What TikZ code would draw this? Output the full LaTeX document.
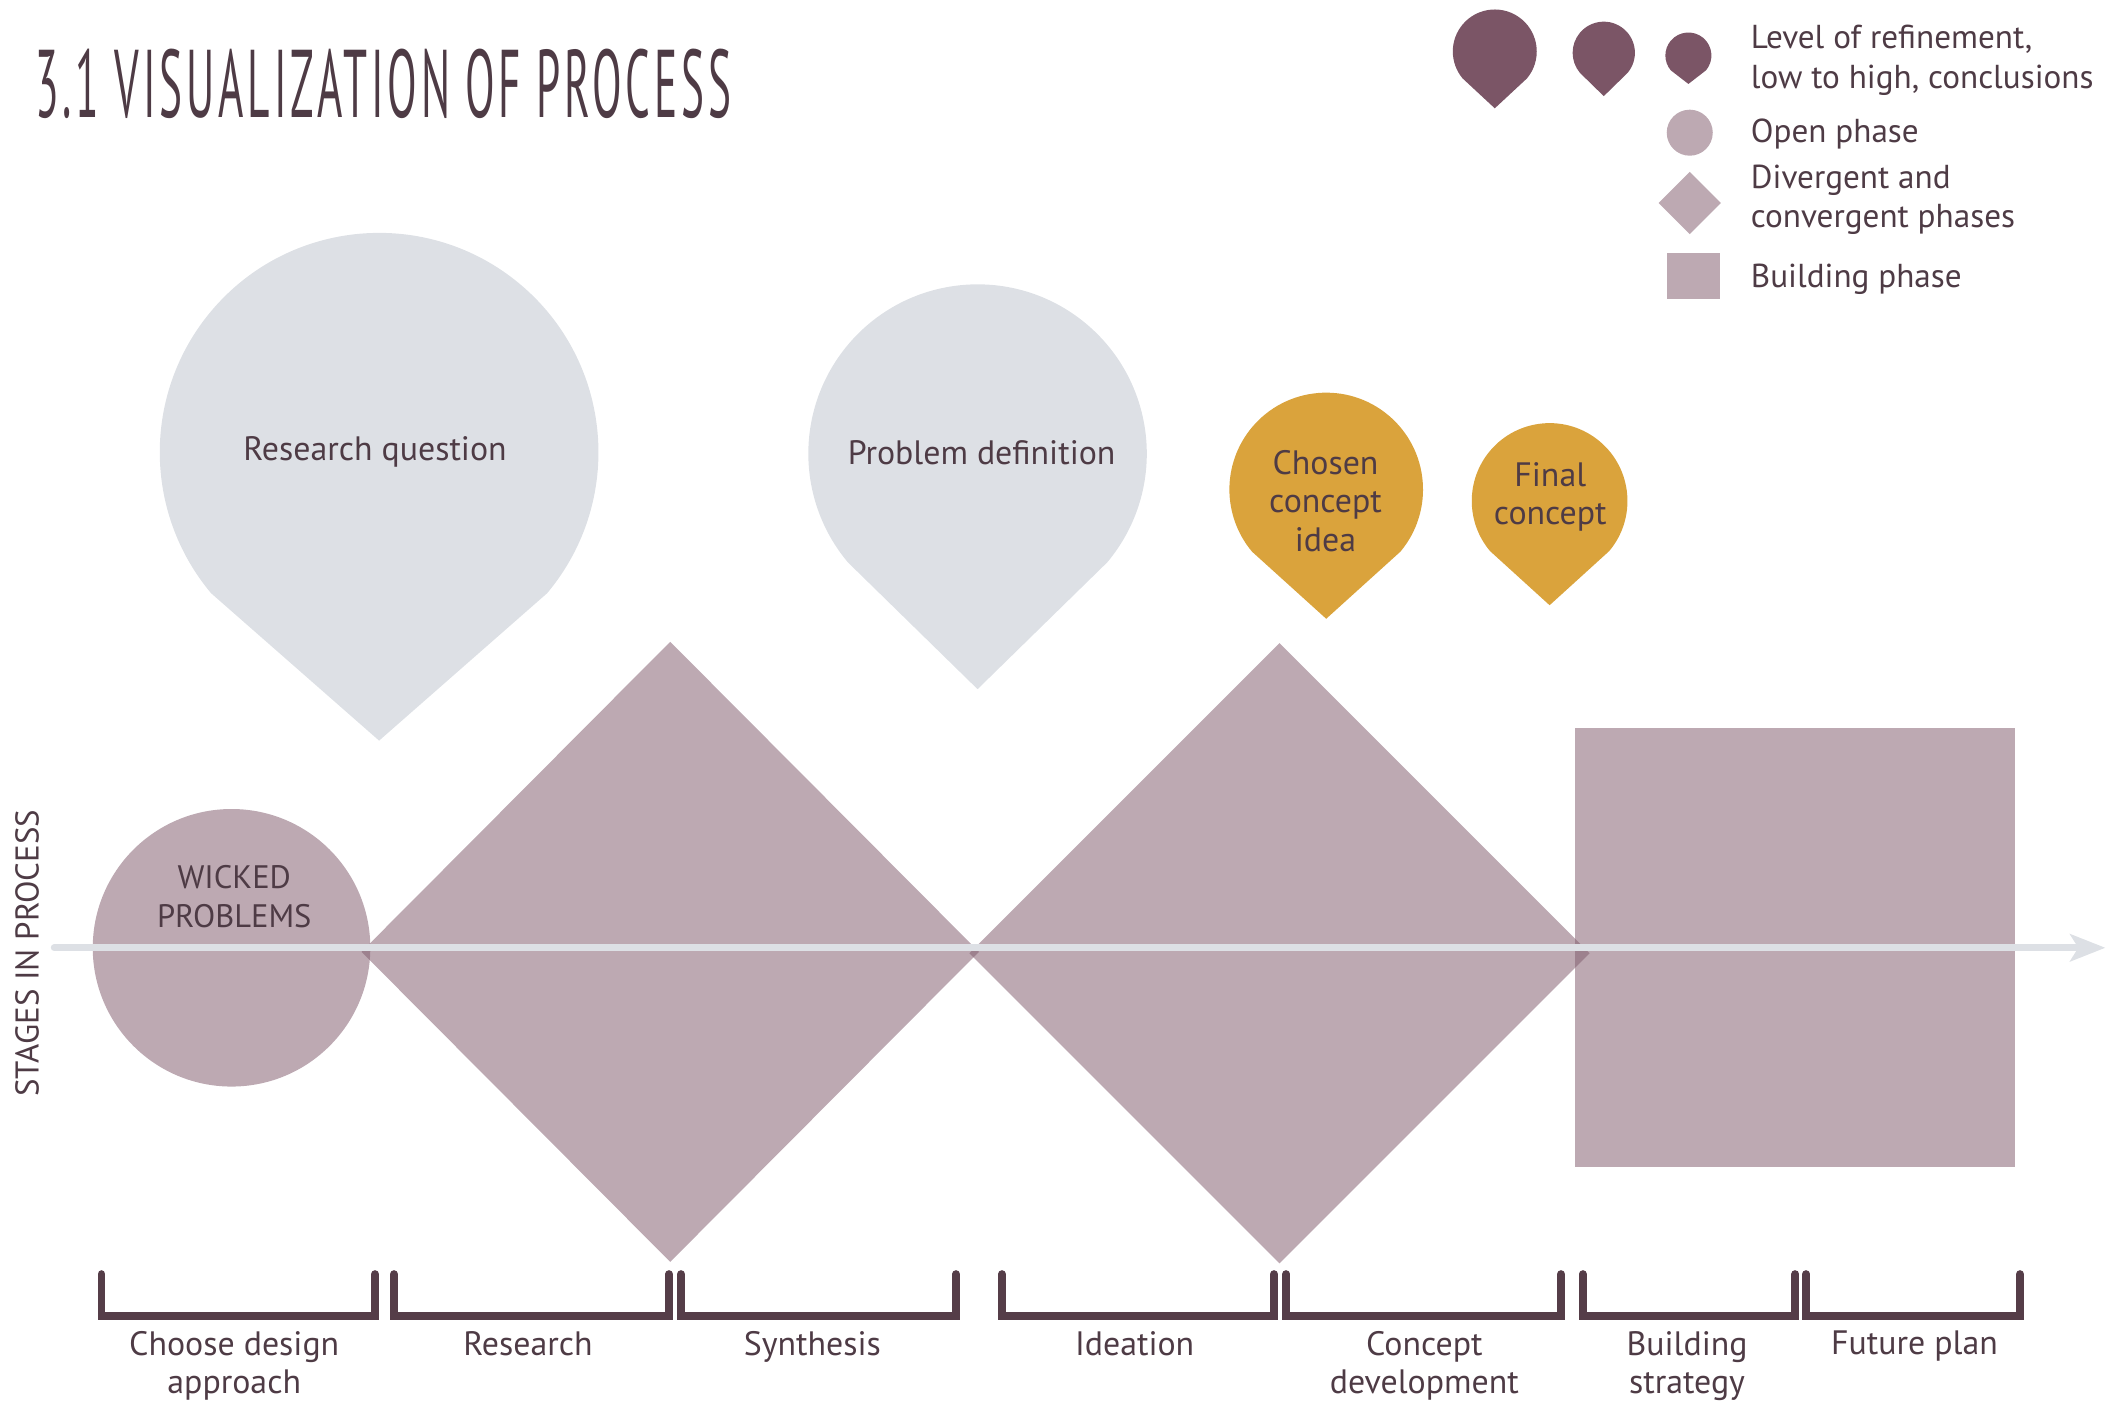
\documentclass[tikz,border=0pt]{standalone}
\usepackage{fontspec}
\setmainfont{PT Sans}
\newfontfamily\titlefont[FakeStretch=0.45, LetterSpace=4]{PT Sans}
\usetikzlibrary{arrows.meta}
\definecolor{txt}{HTML}{4E3B45}
\definecolor{brk}{HTML}{553D48}
\definecolor{dropgray}{HTML}{DDE0E5}
\definecolor{droporange}{HTML}{DAA33C}
\definecolor{dropdark}{HTML}{7B5566}
\definecolor{phase}{HTML}{825D6E}
\definecolor{phaselight}{HTML}{BDA9B2}
\definecolor{axisc}{HTML}{DDE0E5}
\newcommand\pindrop[5]{\fill[#1] (#2,-#3) ++(-40:#4) arc[start angle=-40,end angle=220,radius=#4] -- (#2,-#3-#5) -- cycle;}
\tikzset{
  phasefill/.style={fill=phase, fill opacity=0.53},
  lbl/.style={text=txt, font=\fontsize{25}{28.5}\selectfont, align=center, inner sep=0pt},
  leg/.style={text=txt, font=\fontsize{24.5}{29}\selectfont, align=left, anchor=west, inner sep=0pt},
  bracketline/.style={draw=brk, line width=5.8, line cap=round, line join=miter},
  blabel/.style={lbl, anchor=north},
}
\begin{document}
\begin{tikzpicture}[x=1pt,y=1pt]
\useasboundingbox (0,0) rectangle (1568,-1039);
% title
\node[anchor=base west, text=txt, inner sep=0pt, font=\titlefont\fontsize{71}{71}\selectfont] (title) at (26,-87) {3.1 VISUALIZATION OF PROCESS};
% legend
\pindrop{dropdark}{1104}{38}{31}{42}
\pindrop{dropdark}{1184.5}{39}{23}{32}
\pindrop{dropdark}{1247}{41}{17}{21}
\fill[phaselight] (1248,-98) circle[radius=17];
\fill[phaselight] (1225,-150) -- (1248,-127) -- (1271,-150) -- (1248,-173) -- cycle;
\fill[phaselight] (1231,-187) rectangle (1270,-221);
\node[leg] (l1) at (1293,-44.5) {Level of refinement,\\low to high, conclusions};
\node[leg] (l2) at (1293,-99) {Open phase};
\node[leg] (l3) at (1293,-147.5) {Divergent and\\convergent phases};
\node[leg] (l4) at (1293,-206) {Building phase};
% drops
\pindrop{dropgray}{280}{334}{162}{213}
\pindrop{dropgray}{722}{335}{125}{174}
\pindrop{droporange}{979.5}{361.5}{71.5}{95.5}
\pindrop{droporange}{1144.5}{370}{57.5}{77}
\node[lbl] (rq) at (277,-334) {Research question};
\node[lbl] (pd) at (725,-334) {Problem definition};
\node[lbl] (cci) at (979,-370) {Chosen\\concept\\idea};
\node[lbl] (fc) at (1145,-367) {Final\\concept};
% phases
\fill[phasefill] (171,-700) circle[radius=102.5];
\fill[phasefill] (267,-703) -- (495,-474) -- (723,-703) -- (495,-932) -- cycle;
\fill[phasefill] (716,-704) -- (945,-475) -- (1174,-704) -- (945,-933) -- cycle;
\fill[phasefill] (1163,-538) rectangle (1488,-862);
\node[lbl, font=\fontsize{24}{28.5}\selectfont] (wp) at (173,-662) {WICKED\\PROBLEMS};
% axis
\coordinate (axstart) at (40,-700);
\coordinate (axend) at (1555,-700);
\draw[axisc, line width=5, line cap=round, -{Stealth[length=26pt, width=20pt, inset=6pt]}] (axstart) -- (axend);
\node[lbl, rotate=90, font=\fontsize{24.3}{26}\selectfont] (stages) at (20,-704) {STAGES IN PROCESS};
% brackets
\foreach \a/\b in {75/277, 291/494, 503/706, 740/941, 950/1153, 1169/1326, 1334/1492}{
  \draw[bracketline] (\a,-941) -- (\a,-972) -- (\b,-972) -- (\b,-941);
}
\node[blabel] (b1) at (173,-983) {Choose design\\approach};
\node[blabel] (b2) at (390,-983) {Research};
\node[blabel] (b3) at (600,-983) {Synthesis};
\node[blabel] (b4) at (838,-983) {Ideation};
\node[blabel] (b5) at (1052,-983) {Concept\\development};
\node[blabel] (b6) at (1246,-983) {Building\\strategy};
\node[blabel] (b7) at (1414,-983) {Future plan};
\end{tikzpicture}
\end{document}
